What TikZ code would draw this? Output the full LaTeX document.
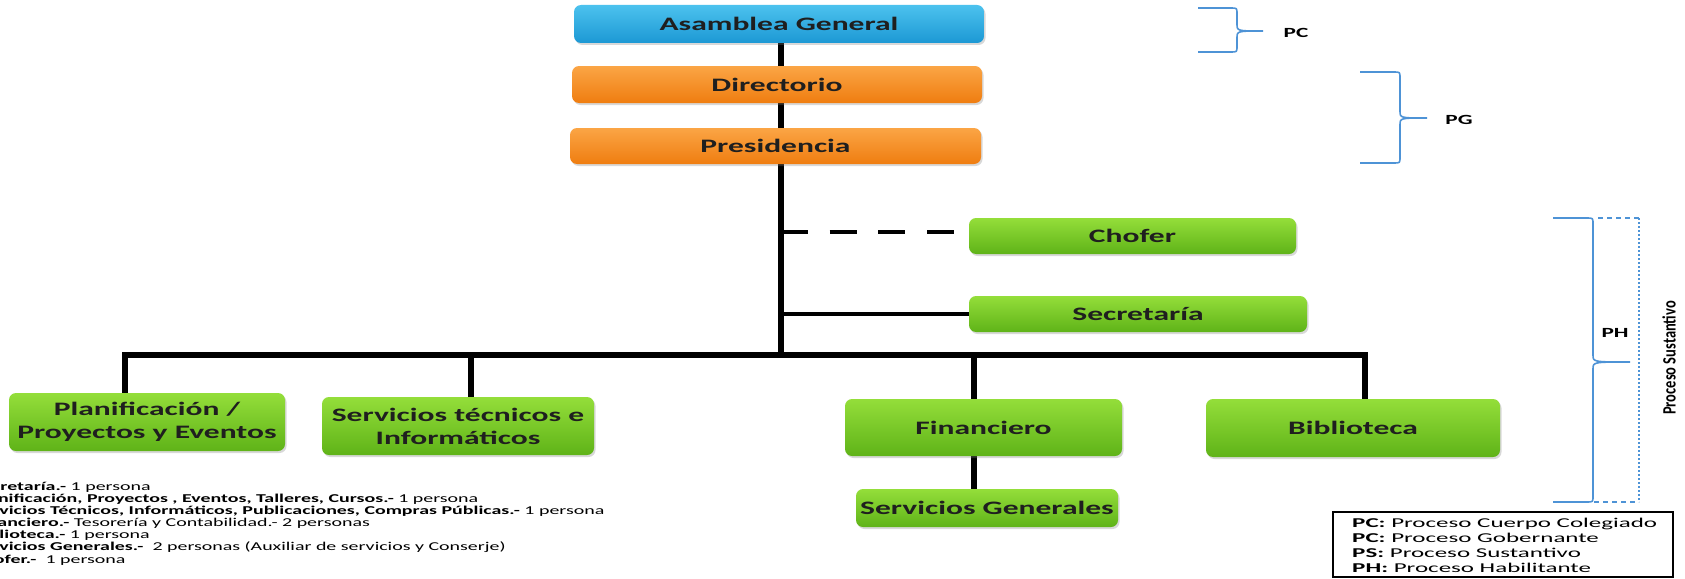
\documentclass[tikz,border=0pt]{standalone}
\usepackage{fontspec}
\setmainfont{Carlito}
\newfontfamily\bxfont{Carlito}[FakeStretch=1.66]
\newfontfamily\legfont{Carlito}[FakeStretch=1.85]
\usetikzlibrary{shadows}
\definecolor{bluetop}{HTML}{4CC2EE}
\definecolor{bluebot}{HTML}{1C98D4}
\definecolor{orgtop}{HTML}{FBA545}
\definecolor{orgbot}{HTML}{EF7D10}
\definecolor{grntop}{HTML}{94DE3A}
\definecolor{grnbot}{HTML}{5FB318}
\definecolor{brc}{HTML}{4E93D6}
\pgfdeclarelayer{bg}
\pgfsetlayers{bg,main}
\newcommand{\BraceR}[6]{%
  \draw[bracestyle] (#1,#4) -- ({#2-6},#4) .. controls (#2,#4) .. (#2,{#4+6})
    -- (#2,{#5-7}) .. controls (#2,#5) .. (#3,#5)
    .. controls (#2,#5) .. (#2,{#5+7})
    -- (#2,{#6-6}) .. controls (#2,#6) .. ({#2-6},#6) -- (#1,#6);}
\begin{document}
\begin{tikzpicture}[x=1pt,y=-1pt,
  boxbase/.style={rounded corners=7pt, draw=none, align=center, inner sep=0pt,
    font=\bxfont\bfseries\fontsize{19}{23}\selectfont, text=black!88,
    drop shadow={shadow xshift=1.5pt, shadow yshift=-2pt, opacity=0.3}},
  bbox/.style={boxbase, top color=bluetop, bottom color=bluebot},
  obox/.style={boxbase, top color=orgtop, bottom color=orgbot},
  gbox/.style={boxbase, top color=grntop, bottom color=grnbot},
  conn/.style={line width=5.5pt, black},
  thinconn/.style={line width=3.5pt, black},
  dashconn/.style={line width=4.5pt, black, dash pattern=on 27pt off 21.67pt},
  bracestyle/.style={line width=1.6pt, brc},
  plabel/.style={font=\bxfont\bfseries\fontsize{14}{16}\selectfont, inner sep=0pt},
  leg/.style={anchor=base west, inner sep=0pt, font=\legfont\fontsize{13.5}{15}\selectfont},
  note/.style={anchor=base west, inner sep=0pt, font=\bxfont\fontsize{12}{12}\selectfont}
]
\useasboundingbox (0,0) rectangle (1685,578);
\clip (0,0) rectangle (1685,578);

% top boxes
\node[bbox, minimum width=410pt, minimum height=38pt] (asam) at (779,24) {Asamblea General};
\node[obox, minimum width=410pt, minimum height=37pt] (dir) at (777,84.5) {Directorio};
\node[obox, minimum width=411pt, minimum height=36pt] (pres) at (775.5,146) {Presidencia};

% side boxes
\node[gbox, minimum width=327pt, minimum height=36pt] (chof) at (1132.5,236) {Chofer};
\node[gbox, minimum width=338pt, minimum height=36pt] (secr) at (1138,314) {Secretaría};

% lower boxes
\node[gbox, minimum width=276pt, minimum height=58pt] (plan) at (147,422) {Planificación /\\Proyectos y Eventos};
\node[gbox, minimum width=272pt, minimum height=58pt] (serv) at (458,426) {Servicios técnicos e\\Informáticos};
\node[gbox, minimum width=277pt, minimum height=57pt] (fin) at (983.5,427.5) {Financiero};
\node[gbox, minimum width=294pt, minimum height=58pt] (bib) at (1353,428) {Biblioteca};
\node[gbox, minimum width=262pt, minimum height=38pt] (sg) at (987,508) {Servicios Generales};

\coordinate (bus) at (781,355);
\coordinate (jc) at (781,232);
\coordinate (js) at (781,314);

\begin{pgfonlayer}{bg}
  \fill[white] (0,0) rectangle (1685,578);
  \draw[conn] (asam.south -| bus) -- (dir.north -| bus);
  \draw[conn] (dir.south -| bus) -- (pres.north -| bus);
  \draw[conn] (pres.south -| bus) -- (bus);
  \draw[dashconn] (jc) -- ([xshift=-15pt]chof.west |- jc);
  \draw[thinconn] (js) -- (secr.west);
  \draw[conn] ([xshift=-22pt]plan.north) |- (bus);
  \draw[conn] ([xshift=12pt]bib.north) |- (bus);
  \draw[conn] ([xshift=13pt]serv.north) -- ([xshift=13pt]serv.north |- bus);
  \draw[conn] ([xshift=-9.5pt]fin.north) -- ([xshift=-9.5pt]fin.north |- bus);
  \draw[conn] ([xshift=-9.5pt]fin.south) -- ([xshift=-9.5pt]fin.south |- sg.north);
\end{pgfonlayer}

% braces
\BraceR{1198}{1237}{1263}{8}{31}{52}
\node[plabel] (pc) at (1296,33) {PC};
\BraceR{1360}{1400}{1427}{72}{118}{163}
\node[plabel] (pg) at (1459,120) {PG};
\BraceR{1553}{1593}{1630}{218}{362}{502}
\node[plabel] (ph) at (1615,333) {PH};
\draw[brc, line width=1.3pt, dash pattern=on 5pt off 4pt] (1598,218) -- (1639,218);
\draw[brc, line width=1.3pt, dash pattern=on 2pt off 2pt] (1639,218) -- (1639,502);
\draw[brc, line width=1.3pt, dash pattern=on 5pt off 4pt] (1594,502) -- (1639,502);
\node[rotate=90, inner sep=0pt, font=\bfseries\fontsize{14.5}{16}\selectfont] (pst) at (1669,358) {\scalebox{1}[1.3]{Proceso Sustantivo}};

% legend
\draw[black, line width=1.3pt] (1333,512) rectangle (1673,577);
\node[leg] (l1) at (1352,527.3) {\textbf{PC:} Proceso Cuerpo Colegiado};
\node[leg] (l2) at (1352,542.3) {\textbf{PC:} Proceso Gobernante};
\node[leg] (l3) at (1352,557.3) {\textbf{PS:} Proceso Sustantivo};
\node[leg] (l4) at (1352,572.3) {\textbf{PH:} Proceso Habilitante};

% notes (cut at the left edge)
\node[note] (n1) at (-27.5,490) {\textbf{Secretaría.-} 1 persona};
\node[note] (n2) at (-27.5,502.2) {\textbf{Planificación, Proyectos , Eventos, Talleres, Cursos.-} 1 persona};
\node[note] (n3) at (-27.5,514.3) {\textbf{Servicios Técnicos, Informáticos, Publicaciones, Compras Públicas.-} 1 persona};
\node[note] (n4) at (-27.5,526.5) {\textbf{Financiero.-} Tesorería y Contabilidad.- 2 personas};
\node[note] (n5) at (-27.5,538.7) {\textbf{Biblioteca.-} 1 persona};
\node[note] (n6) at (-27.5,550.9) {\textbf{Servicios Generales.-}\ \ 2 personas (Auxiliar de servicios y Conserje)};
\node[note] (n7) at (-27.5,563) {\textbf{Chofer.-}\ \ 1 persona};
\end{tikzpicture}
\end{document}
